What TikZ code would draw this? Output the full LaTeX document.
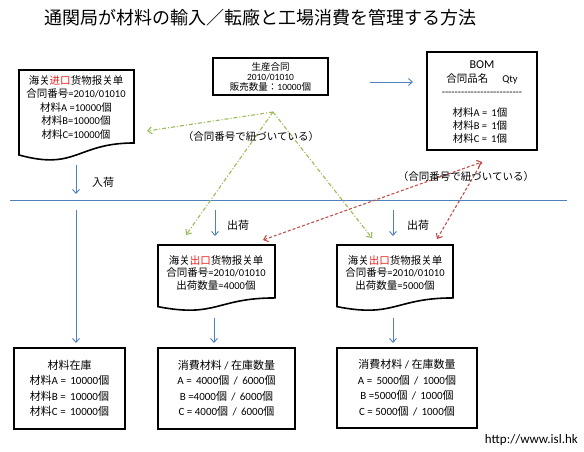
\documentclass[tikz,border=0pt]{standalone}
\usepackage{fontspec}
\setmainfont{Carlito}
\newfontfamily\jp{Noto Sans CJK JP}
\usetikzlibrary{arrows.meta}
\definecolor{oblue}{HTML}{4F81BD}
\definecolor{ogreen}{HTML}{9BBB59}
\definecolor{ored}{HTML}{C0504D}
\definecolor{tred}{HTML}{E8201A}
\newcommand{\cj}[1]{{\jp #1}}
\newcommand{\hyf}{-\kern0pt}
\newcommand{\hyfive}{\hyf\hyf\hyf\hyf\hyf}
\newcommand{\docpath}[4]{%
  \draw[docshape] (#1,#2) -- ({#1+#3},#2) -- ({#1+#3},{#2+0.802*#4})
    .. controls ({#1+0.5*#3},{#2+0.802*#4}) and ({#1+0.5*#3},{#2+1.1075*#4}) .. (#1,{#2+0.934*#4}) -- cycle;}
\begin{document}
\begin{tikzpicture}[x=1pt,y=-1pt,
  box/.style={draw=black,line width=1.6pt,inner sep=0pt,fill=white},
  docshape/.style={draw=black,line width=1.6pt,fill=white},
  txt/.style={inner sep=0pt,align=center},
  barrow/.style={draw=oblue,line width=0.9pt,-{Straight Barb[length=4pt,width=7pt]}},
  garrow/.style={draw=ogreen,line width=1.1pt,dash pattern=on 4pt off 2pt on 1pt off 2pt,-{Straight Barb[length=4pt,width=7pt]}},
  rarrow/.style={draw=ored,line width=1.1pt,dash pattern=on 3pt off 2pt,-{Straight Barb[length=4pt,width=7pt]}},
  f105/.style={font=\fontsize{10.5}{13.5}\selectfont}
]
\useasboundingbox[fill=white] (0,0) rectangle (584,451);

% title
\node[txt,font=\jp\fontsize{18}{18}\selectfont] (title) at (261,18) {通関局が材料の輸入／転廠と工場消費を管理する方法};

% import document
\docpath{19}{70}{115}{91}
\node[txt,f105] (impdoc) at (76,107) {\cj{海关}\textcolor{tred}{\cj{进口}}\cj{货物报关单}\\\cj{合同番号}=2010/01010\\\cj{材料}A =10000\cj{個}\\\cj{材料}B=10000\cj{個}\\\cj{材料}C=10000\cj{個}};

% production contract
\node[box,minimum width=115pt,minimum height=37pt,font=\fontsize{9.5}{10}\selectfont,align=center] (gen) at (270.5,76.5) {\cj{生産合同}\\2010/01010\\\cj{販売数量：}10000\cj{個}};

% BOM
\node[box,minimum width=110pt,minimum height=98pt] (bom) at (482,101) {};
\node[txt,font=\fontsize{12}{12}\selectfont] (bomt) at (482,65) {BOM};
\node[txt,f105] (bomh) at (482,79) {\cj{合同品名}\hspace{14pt}Qty};
\node[txt,f105] (bomd) at (482,94) {\hyfive\hyfive\hyfive\hyfive\hyfive};
\node[txt,f105] (boma) at (480,113) {\cj{材料}A = \,1\cj{個}};
\node[txt,f105] (bomb) at (480,126) {\cj{材料}B = \,1\cj{個}};
\node[txt,f105] (bomc) at (480,139) {\cj{材料}C = \,1\cj{個}};

% arrow contract -> BOM
\coordinate (gb1) at (370,82);
\coordinate (gb2) at (413,82);
\draw[barrow] (gb1) -- (gb2);

% horizontal line
\coordinate (hl) at (10,200);
\coordinate (hr) at (567,200);
\draw[draw=oblue,line width=0.9pt] (hl) -- (hr);

% left column arrows
\coordinate (a1s) at (76,165);
\coordinate (a1e) at (76,194);
\draw[barrow] (a1s) -- (a1e);
\node[txt,font=\jp\fontsize{11}{11}\selectfont] (nyuka) at (103,182) {入荷};
\coordinate (a2s) at (76,210);
\coordinate (a2e) at (76,343);
\draw[barrow] (a2s) -- (a2e);

% shipping arrows
\coordinate (s1s) at (215,210);
\coordinate (s1e) at (215,236);
\draw[barrow] (s1s) -- (s1e);
\node[txt,font=\jp\fontsize{11}{11}\selectfont] (shuka1) at (238,225) {出荷};
\coordinate (s2s) at (393,210);
\coordinate (s2e) at (393,236);
\draw[barrow] (s2s) -- (s2e);
\node[txt,font=\jp\fontsize{11}{11}\selectfont] (shuka2) at (418,225) {出荷};

% export documents
\docpath{158}{245}{117}{66}
\node[txt,font=\fontsize{10.5}{12.5}\selectfont] (expdoc1) at (216,272.5) {\cj{海关}\textcolor{tred}{\cj{出口}}\cj{货物报关单}\\\cj{合同番号}=2010/01010\\\cj{出荷数量}=4000\cj{個}};
\docpath{337}{245}{116}{66}
\node[txt,font=\fontsize{10.5}{12.5}\selectfont] (expdoc2) at (395,272.5) {\cj{海关}\textcolor{tred}{\cj{出口}}\cj{货物报关单}\\\cj{合同番号}=2010/01010\\\cj{出荷数量}=5000\cj{個}};

% arrows below export docs
\coordinate (e1s) at (214,318);
\coordinate (e1e) at (214,343);
\draw[barrow] (e1s) -- (e1e);
\coordinate (e2s) at (393,318);
\coordinate (e2e) at (393,343);
\draw[barrow] (e2s) -- (e2e);

% bottom boxes
\node[box,minimum width=111pt,minimum height=81pt,align=center,font=\fontsize{11}{15.5}\selectfont] (stock) at (69.5,388.5)
  {\cj{材料在庫}\\\cj{材料}A = \,10000\cj{個}\\\cj{材料}B = \,10000\cj{個}\\\cj{材料}C = \,10000\cj{個}};
\node[box,minimum width=137pt,minimum height=81pt,align=center,font=\fontsize{11}{15.5}\selectfont] (cons1) at (226.5,388.5)
  {\cj{消費材料} / \cj{在庫数量}\\A = \,4000\cj{個} \,/ \,6000\cj{個}\\B =4000\cj{個} \,/ \,6000\cj{個}\\C = 4000\cj{個} \,/ \,6000\cj{個}};
\node[box,minimum width=140pt,minimum height=80pt,align=center,font=\fontsize{11}{15.5}\selectfont] (cons2) at (407,388)
  {\cj{消費材料} / \cj{在庫数量}\\A = \,5000\cj{個} \,/ \,1000\cj{個}\\B =5000\cj{個} \,/ \,1000\cj{個}\\C = 5000\cj{個} \,/ \,1000\cj{個}};

% green dash-dot links
\coordinate (gO) at (273,112);
\coordinate (gL) at (147,131);
\coordinate (gD1) at (186,235);
\coordinate (gD2) at (372,238);
\draw[garrow] (gO) -- (gL);
\draw[garrow] (gO) -- (gD1);
\draw[garrow] (gO) -- (gD2);
\node[txt,font=\jp\fontsize{10.5}{10.5}\selectfont] (lab1) at (251,137) {（合同番号で紐づいている）};

% red dashed links
\coordinate (rO) at (482,162);
\coordinate (rL) at (263,240);
\coordinate (rR) at (437,239);
\draw[rarrow,{Straight Barb[length=4pt,width=7pt]}-{Straight Barb[length=4pt,width=7pt]}] (rL) -- (rO);
\draw[rarrow] (rO) -- (rR);
\node[txt,font=\jp\fontsize{10.5}{10.5}\selectfont] (lab2) at (466,177) {（合同番号で紐づいている）};

% url
\node[txt,anchor=east,font=\fontsize{13}{13}\selectfont] (url) at (578,440) {http://www.isl.hk};
\end{tikzpicture}
\end{document}
